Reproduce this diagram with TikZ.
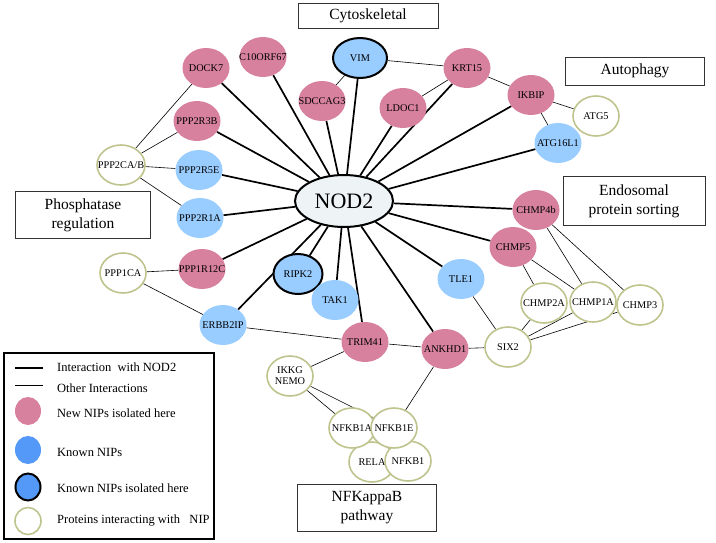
\documentclass[tikz,border=0pt]{standalone}
\usepackage{fontspec}
\setmainfont{Liberation Serif}
\usetikzlibrary{shapes.geometric, backgrounds}

\definecolor{nippink}{HTML}{D8819F}
\definecolor{nipblue}{HTML}{99CCFF}
\definecolor{legendblue}{HTML}{5599F8}
\definecolor{partnerolive}{HTML}{BFC48E}
\definecolor{nodfill}{HTML}{EEF3F5}

\begin{document}
\begin{tikzpicture}[
    x=1pt, y=-1pt,
    every node/.style={font=\fontsize{10.3}{11}\selectfont},
    newnip/.style={
        ellipse,
        fill=nippink,
        minimum width=47pt,
        minimum height=40pt,
        inner sep=0pt
    },
    knownnip/.style={newnip, fill=nipblue},
    knownhere/.style={knownnip, draw=black, line width=2pt},
    partner/.style={
        ellipse,
        draw=partnerolive,
        line width=1.6pt,
        fill=white,
        minimum width=46pt,
        minimum height=40pt,
        inner sep=0pt
    },
    topic/.style={
        rectangle,
        draw=black!80,
        line width=0.6pt,
        align=center,
        inner sep=0pt,
        font=\fontsize{15.5}{19}\selectfont
    },
    legendtxt/.style={anchor=west, inner sep=0pt, font=\fontsize{12.5}{14}\selectfont},
    nodlink/.style={line width=1.7pt},
    otherlink/.style={line width=0.6pt}
]
\useasboundingbox (0,0) rectangle (716,542);

% centre
\node[ellipse, draw, line width=2pt, fill=nodfill, minimum width=98pt,
      minimum height=52pt, inner sep=0pt, font=\fontsize{22}{24}\selectfont] (nod2) at (344,201) {NOD2};

% top
\node[newnip, label=center:DOCK7] (dock7) at (206,68) {};
\node[newnip, label=center:C10ORF67] (c10orf67) at (263,57) {};
\node[knownhere, minimum width=54pt, label=center:VIM] (vim) at (360,58) {};
\node[newnip, label=center:SDCCAG3] (sdccag3) at (322,101) {};
\node[newnip, label=center:LDOC1] (ldoc1) at (403,108) {};
\node[newnip, label=center:KRT15] (krt15) at (467,68) {};
\node[newnip, label=center:IKBIP] (ikbip) at (531,95) {};
\node[partner, label=center:ATG5] (atg5) at (596,116) {};
\node[knownnip, label=center:ATG16L1] (atg16l1) at (558,143) {};

% right
\node[newnip, label=center:CHMP4b] (chmp4b) at (536,210) {};
\node[newnip, label=center:CHMP5] (chmp5) at (513,247) {};
\node[knownnip, label=center:TLE1] (tle1) at (461,279) {};
\node[partner, label=center:CHMP2A] (chmp2a) at (544,303) {};
\node[partner, label=center:CHMP1A] (chmp1a) at (593,302) {};
\node[partner, label=center:CHMP3] (chmp3) at (640,305) {};
\node[partner, label=center:SIX2] (six2) at (508,347) {};
\node[newnip, label=center:ANKHD1] (ankhd1) at (445,349) {};

% bottom
\node[newnip, label=center:TRIM41] (trim41) at (365,342) {};
\node[partner, label={[align=center]center:IKKG\\NEMO}] (ikkg) at (290,376) {};
\node[partner, label=center:RELA] (rela) at (372,462) {};
\node[partner, label=center:NFKB1] (nfkb1) at (408,461) {};
\node[partner, label=center:NFKB1A] (nfkb1a) at (352,428) {};
\node[partner, label=center:NFKB1E] (nfkb1e) at (394,428) {};

% left
\node[newnip, label=center:PPP2R3B] (ppp2r3b) at (197,121) {};
\node[knownnip, label=center:PPP2R5E] (ppp2r5e) at (199,170) {};
\node[knownnip, label=center:PPP2R1A] (ppp2r1a) at (200,218) {};
\node[newnip, label=center:PPP1R12C] (ppp1r12c) at (202,269) {};
\node[partner, minimum width=48pt, label=center:PPP2CA/B] (ppp2cab) at (121,165) {};
\node[partner, label=center:PPP1CA] (ppp1ca) at (123,273) {};
\node[knownnip, label=center:ERBB2IP] (erbb2ip) at (223,325) {};
\node[knownhere, minimum width=49pt, label=center:RIPK2] (ripk2) at (298,274) {};
\node[knownnip, label=center:TAK1] (tak1) at (335,300) {};

% categories
\node[topic, minimum width=140pt, minimum height=25pt] (cyto) at (368,16) {Cytoskeletal};
\node[topic, minimum width=139pt, minimum height=28pt] (autoph) at (635,71) {Autophagy};
\node[topic, minimum width=142pt, minimum height=49pt] (endo) at (634,201) {Endosomal\\protein sorting};
\node[topic, minimum width=135pt, minimum height=47pt] (phos) at (83,215) {Phosphatase\\regulation};
\node[topic, minimum width=139pt, minimum height=47pt] (nfkb) at (367,508) {NFKappaB\\pathway};

% links
\begin{scope}[on background layer]
\foreach \n in {dock7, c10orf67, sdccag3, vim, ldoc1, krt15, ikbip, atg16l1,
                chmp4b, chmp5, tle1, ankhd1, trim41, tak1, ripk2, erbb2ip,
                ppp1r12c, ppp2r1a, ppp2r5e, ppp2r3b}
    \draw[nodlink] (nod2) -- (\n);
\foreach \a/\b in {ppp2cab/dock7, ppp2cab/ppp2r3b, ppp2cab/ppp2r5e, ppp2cab/ppp2r1a,
                   ppp1ca/ppp1r12c, ppp1ca/erbb2ip, erbb2ip/trim41,
                   sdccag3/vim, vim/krt15, ldoc1/krt15, krt15/ikbip,
                   ikbip/atg5, ikbip/atg16l1,
                   chmp4b/chmp1a, chmp4b/chmp3, chmp5/chmp2a, chmp5/chmp1a,
                   tle1/six2, six2/chmp2a, six2/chmp1a, six2/chmp3,
                   ankhd1/six2, trim41/ankhd1, trim41/ikkg, ankhd1/nfkb1e,
                   ikkg/nfkb1a, ikkg/nfkb1e}
    \draw[otherlink] (\a) -- (\b);
\end{scope}

% legend
\node[draw, line width=1.5pt, minimum width=210pt, minimum height=186pt,
      inner sep=0pt, anchor=north west] (legend) at (3,352) {};
\coordinate (lga) at (15,368);
\coordinate (lgb) at (43,368);
\coordinate (lgc) at (15,385);
\coordinate (lgd) at (43,385);
\draw[nodlink] (lga) -- (lgb);
\draw[otherlink] (lgc) -- (lgd);
\node[ellipse, fill=nippink, minimum width=26pt, minimum height=28pt, inner sep=0pt] (lgnew) at (28,411) {};
\node[ellipse, fill=legendblue, minimum width=26pt, minimum height=28pt, inner sep=0pt] (lgknown) at (28,450) {};
\node[ellipse, fill=legendblue, draw=black, line width=2pt, minimum width=25pt, minimum height=27pt, inner sep=0pt] (lghere) at (28,487) {};
\node[ellipse, draw=partnerolive, line width=1.6pt, minimum width=26pt, minimum height=27pt, inner sep=0pt] (lgpartner) at (28,521) {};
\node[legendtxt] (lt1) at (57,367) {Interaction\ \ with NOD2};
\node[legendtxt] (lt2) at (57,388) {Other Interactions};
\node[legendtxt] (lt3) at (57,413) {New NIPs isolated here};
\node[legendtxt] (lt4) at (57,452) {Known NIPs};
\node[legendtxt] (lt5) at (57,488) {Known NIPs isolated here};
\node[legendtxt] (lt6) at (57,521) {Proteins interacting with\ \ \ NIP};

\end{tikzpicture}
\end{document}
